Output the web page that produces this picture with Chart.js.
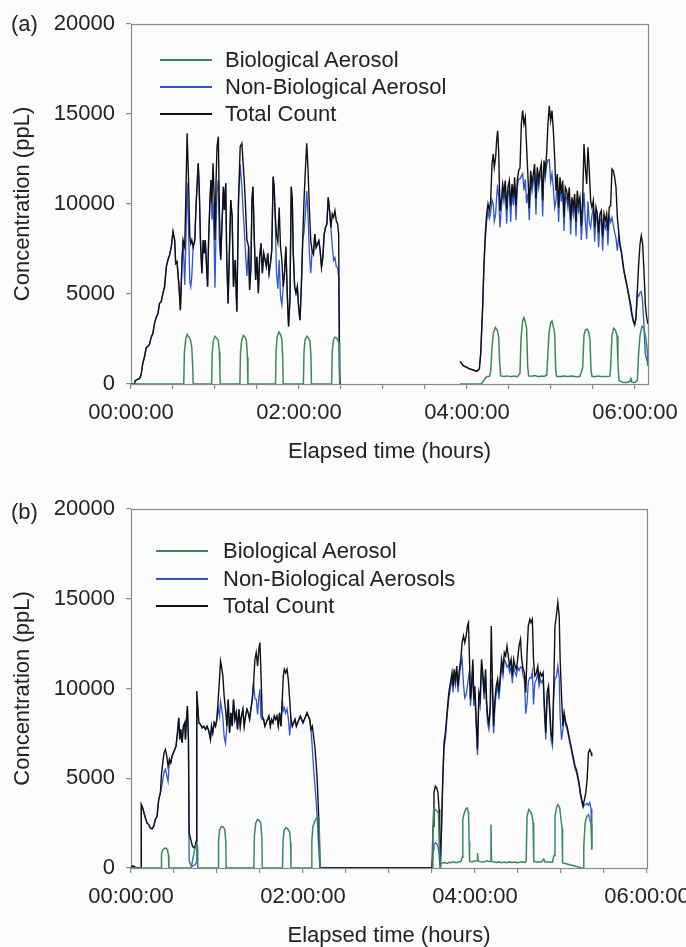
<!DOCTYPE html>
<html>
<head>
<meta charset="utf-8">
<title>Aerosol concentration vs elapsed time</title>
<script src="https://cdn.jsdelivr.net/npm/chart.js@4.4.1/dist/chart.umd.min.js"></script>
<style>
  html, body { margin:0; padding:0; background:#fcfcfd; }
  body { position:relative; width:686px; height:947px; overflow:hidden;
         font-family:"Liberation Sans", Arial, Helvetica, sans-serif; color:#222; }
  .panel { position:absolute; left:0; width:686px; }
  .plabel { position:absolute; left:11px; font-size:22px; line-height:22px; white-space:nowrap; }
  .leg { position:absolute; font-size:22px; line-height:22px; white-space:nowrap; }
  .legline { position:absolute; height:0; width:52px; }
</style>
</head>
<body>
<div class="panel" id="panelA" style="top:0;height:470px;"><canvas id="chartA"></canvas></div>
<div class="panel" id="panelB" style="top:485px;height:462px;"><canvas id="chartB"></canvas></div>
<div class="plabel" style="top:13px;">(a)</div>
<div class="plabel" style="top:501px;">(b)</div>
<div id="legendA"></div>
<div id="legendB"></div>
<script>
// ---------------- labels ----------------
const SERIES_A = ['Biological Aerosol', 'Non-Biological Aerosol', 'Total Count'];
const SERIES_B = ['Biological Aerosol', 'Non-Biological Aerosols', 'Total Count'];
const Y_TICKS = [0, 5000, 10000, 15000, 20000];
const X_LABEL_HOURS = [0, 2, 4, 6];
const X_TITLE = 'Elapsed time (hours)';
const Y_TITLE = 'Concentration (ppL)';

// ---------------- panel (a) : time in hours, concentration in ppL ----------------
const A1_T = [0,0.04,0.052,0.08,0.1,0.12,0.14,0.16,0.18,0.2,
0.22,0.24,0.26,0.28,0.3,0.32,0.34,0.36,0.38,0.4,
0.42,0.44,0.46,0.48,0.5,0.52,0.532,0.548,0.572,0.588,
0.608,0.62,0.64,0.652,0.668,0.684,0.7,0.712,0.724,0.74,
0.76,0.772,0.788,0.8,0.812,0.828,0.844,0.86,0.872,0.884,
0.9,0.912,0.924,0.94,0.952,0.964,0.976,0.988,1.0,1.012,
1.024,1.04,1.052,1.068,1.084,1.1,1.112,1.128,1.14,1.156,
1.172,1.188,1.204,1.22,1.24,1.26,1.28,1.3,1.32,1.332,
1.348,1.364,1.38,1.4,1.412,1.428,1.44,1.452,1.468,1.484,
1.5,1.516,1.532,1.548,1.564,1.58,1.596,1.612,1.628,1.644,
1.66,1.676,1.692,1.704,1.716,1.732,1.748,1.764,1.78,1.796,
1.812,1.828,1.844,1.86,1.876,1.892,1.908,1.92,1.932,1.948,
1.964,1.98,1.996,2.012,2.028,2.044,2.06,2.076,2.092,2.108,
2.124,2.14,2.156,2.172,2.188,2.204,2.22,2.236,2.252,2.268,
2.284,2.3,2.316,2.332,2.348,2.364,2.38,2.396,2.412,2.428,
2.444,2.46,2.472,2.484,2.49];
const A1_TOTAL = [0,0,200,260,300,500,1150,1500,2000,2100,
2200,2600,2800,3370,3700,3900,4480,4570,5040,5400,
6500,6900,7170,7630,8460,8000,6700,6800,5400,4100,
6900,8000,7600,10200,13930,11500,8200,7800,8000,7600,
8000,9670,11150,12260,10960,7800,6150,8000,7260,8000,
6500,5400,8000,10220,11330,10040,12260,10780,8000,11150,
13190,13740,9670,6900,8930,10960,9670,11150,6900,4480,
7440,10220,9300,5410,6890,4020,10220,13190,13370,12450,
11330,9800,8000,7630,5220,6480,10220,10960,8000,5780,
7070,5040,7070,7810,6150,7260,6890,6520,7260,6150,
6700,7440,11520,10960,9500,8300,7900,9800,7600,6900,
5410,6150,7630,5040,3190,4670,10960,10220,7260,5410,
5040,5410,4260,3550,5410,7960,10220,11890,13370,11890,
9670,7960,7410,7220,8330,7590,7780,7960,7410,6480,
7040,8330,8700,8890,10370,9630,8700,9450,9260,9630,
9070,8890,8330,400,0];
const A1_NONBIO = [0,0,200,260,300,500,1150,1500,2000,2100,
2200,2600,2800,3370,3700,3900,4480,4570,5040,5400,
6500,6900,7170,7630,8460,8000,6700,6800,5400,4100,
6900,8000,5500,7700,11180,8850,5700,5400,6000,7600,
8000,9670,11150,12260,10960,7800,6150,8000,7260,8000,
6500,5400,8000,10220,11330,9140,10060,8280,5350,8550,
10690,11340,7870,6900,8930,10960,9670,11150,6900,4480,
7440,10220,9300,5410,6890,4020,10220,12190,10920,9850,
8630,7200,6000,7630,5220,6480,10220,10960,8000,5780,
7070,5040,7070,7810,6150,7260,6890,6520,7260,6150,
6700,7440,11520,10960,9300,6200,5300,6900,4850,4400,
5410,6150,7630,5040,3190,4670,10960,10220,7260,5410,
5040,5410,4260,3550,5410,7960,8420,9440,10720,9320,
7220,6160,7410,7220,8330,7590,7780,7960,7410,6480,
7040,8330,8700,8890,10370,9630,8700,7650,6860,7030,
6520,6440,5980,400,0];

const A2_T = [3.917,3.956,3.996,4.036,4.075,4.115,4.147,4.163,4.186,4.202,
4.218,4.234,4.25,4.266,4.282,4.298,4.313,4.325,4.341,4.353,
4.365,4.377,4.393,4.409,4.425,4.44,4.456,4.472,4.488,4.504,
4.52,4.536,4.552,4.567,4.583,4.599,4.615,4.631,4.647,4.663,
4.678,4.694,4.71,4.726,4.742,4.758,4.774,4.79,4.805,4.821,
4.837,4.853,4.869,4.885,4.901,4.917,4.932,4.948,4.964,4.98,
4.996,5.012,5.028,5.044,5.059,5.075,5.091,5.107,5.123,5.139,
5.155,5.171,5.186,5.202,5.218,5.234,5.25,5.266,5.282,5.298,
5.313,5.329,5.345,5.361,5.377,5.393,5.409,5.425,5.44,5.456,
5.472,5.488,5.504,5.52,5.536,5.552,5.567,5.583,5.599,5.615,
5.631,5.647,5.663,5.678,5.694,5.71,5.726,5.742,5.758,5.774,
5.79,5.805,5.821,5.837,5.853,5.869,5.885,5.901,5.917,5.932,
5.948,5.964,5.98,5.996,6.012,6.028,6.044,6.06,6.075,6.091,
6.107,6.123,6.139,6.155];
const A2_TOTAL = [1260,1020,926,833,778,704,833,1667,4260,6667,
8333,9445,10000,9630,10190,12220,12780,12040,12590,13520,
14075,12960,9600,10190,11110,10560,11300,9700,10930,11300,
9900,11110,10370,11480,9900,11300,11850,12000,14450,15190,
14450,14820,13150,11480,9800,11850,11110,11670,12220,10300,
12040,11300,11850,12220,10200,12410,11850,12780,14450,15460,
14630,15190,14075,12590,10740,11670,9800,11480,10560,11300,
9300,10930,10740,10190,10930,9100,10370,9815,10560,9000,
10740,10000,10370,8800,10190,13330,12040,11110,13150,11850,
10190,9815,10190,8700,9815,9445,8400,9445,9630,8200,
9445,9075,9445,8500,9815,9900,11950,11850,11480,10930,
9260,8520,7780,7410,6850,6300,5930,5560,5190,4815,
4445,3890,3520,3330,3700,5190,6670,7780,8240,7780,
6300,4445,3700,3330];
const A2_NONBIO = [1260,1020,926,833,778,704,833,1667,4160,6470,
8000,9045,9580,9200,9490,10220,9980,9040,9440,10420,
11075,10360,8700,9740,10680,10140,10870,8900,10480,10880,
9000,10690,9930,11050,9100,10890,11400,11400,11550,11690,
10750,11370,10050,10580,9100,11420,10680,11230,11750,9400,
11610,10890,11430,11780,9300,11990,11430,12180,12450,12460,
11230,11690,10875,9790,10140,11240,9000,11070,10130,10860,
8500,10490,10310,9770,10505,8300,9930,9385,10140,8200,
10330,9580,9940,8000,9290,10630,9040,8060,10150,8950,
8690,9385,9770,7900,9395,9005,7600,9035,9220,7400,
9025,8655,9025,7700,9315,9000,9250,8800,8430,8080,
7400,8220,7630,7310,6750,6200,5840,5480,5090,4685,
4195,3790,3440,3250,3600,4990,4870,5080,5140,4580,
3200,1645,1400,1000];

const A_BIO1_T = [0,0.628,0.636,0.652,0.668,0.688,0.708,0.724,0.735,0.74,
0.96,0.968,0.98,1.0,1.02,1.04,1.052,1.058,1.062,
1.296,1.304,1.318,1.338,1.358,1.374,1.386,1.392,
1.72,1.728,1.74,1.76,1.78,1.795,1.806,1.812,
2.052,2.06,2.072,2.092,2.112,2.13,2.142,2.148,
2.388,2.396,2.408,2.428,2.448,2.466,2.478,2.484];
const A_BIO1 = [0,0,1800,2500,2750,2620,2450,2000,900,0,
0,1800,2400,2650,2550,2400,1800,800,0,
0,1800,2450,2700,2600,2400,1500,0,
0,1900,2600,2900,2750,2500,1500,0,
0,1800,2450,2650,2550,2400,1600,0,
0,1800,2400,2600,2550,2400,2300,0];
const A_BIO2_T = [3.917,4.17,4.178,4.194,4.214,4.242,4.266,4.282,4.298,4.313,
4.337,4.361,4.377,4.389,4.401,4.44,4.48,4.52,4.56,4.6,
4.631,4.643,4.663,4.678,4.694,4.71,4.722,4.734,4.77,4.81,
4.85,4.89,4.92,4.95,4.961,4.976,4.996,5.012,5.028,5.044,
5.056,5.067,5.11,5.15,5.2,5.25,5.3,5.345,5.377,5.393,
5.409,5.432,5.448,5.464,5.476,5.488,5.52,5.56,5.6,5.64,
5.7,5.71,5.726,5.746,5.766,5.786,5.797,5.809,5.85,5.9,
5.94,5.952,5.964,6.0,6.028,6.044,6.06,6.083,6.107,6.131,
6.147,6.155];
const A_BIO2 = [0,0,60,150,300,420,430,700,2000,2800,
3150,3000,2600,1200,450,420,450,400,440,410,
600,2500,3500,3700,3450,3100,1000,450,430,470,
410,440,420,500,1500,2800,3400,3500,3200,2800,
800,430,410,450,420,440,400,430,900,2700,
3000,3050,2900,2500,800,430,400,440,410,420,
430,900,2700,3100,3000,2700,1200,200,100,80,
150,300,100,80,200,1800,2700,3200,3100,2500,
1800,1000];

// ---------------- panel (b) ----------------
const B_T = [0,0.031,0.05,0.089,0.117,0.12,0.136,0.151,0.167,0.186,
0.206,0.225,0.245,0.264,0.283,0.303,0.322,0.342,0.353,0.369,
0.384,0.4,0.416,0.431,0.447,0.462,0.478,0.493,0.509,0.524,
0.54,0.555,0.567,0.579,0.594,0.61,0.625,0.633,0.645,0.656,
0.668,0.676,0.695,0.715,0.734,0.75,0.757,0.765,0.777,0.788,
0.808,0.827,0.847,0.866,0.885,0.905,0.924,0.936,0.951,0.967,
0.983,0.998,1.014,1.029,1.041,1.052,1.068,1.083,1.099,1.115,
1.13,1.146,1.161,1.177,1.192,1.208,1.223,1.239,1.254,1.27,
1.285,1.301,1.316,1.332,1.348,1.363,1.379,1.394,1.41,1.425,
1.441,1.456,1.472,1.487,1.499,1.511,1.526,1.542,1.557,1.573,
1.588,1.604,1.62,1.635,1.651,1.666,1.682,1.697,1.713,1.728,
1.744,1.759,1.771,1.783,1.798,1.814,1.829,1.845,1.86,1.876,
1.891,1.907,1.923,1.938,1.953,1.969,1.984,2.0,2.016,2.031,
2.047,2.062,2.078,2.093,2.109,2.124,2.139,2.155,2.167,2.179,
2.19,2.198,3.5,
3.512,3.523,3.539,3.554,3.57,3.582,3.589,3.597,3.609,3.625,
3.64,3.656,3.675,3.695,3.714,3.733,3.745,3.757,3.772,3.788,
3.803,3.819,3.835,3.85,3.866,3.881,3.897,3.912,3.924,3.936,
3.947,3.959,3.975,3.986,3.998,4.014,4.029,4.045,4.06,4.076,
4.091,4.107,4.123,4.134,4.146,4.161,4.177,4.189,4.2,4.216,
4.232,4.247,4.263,4.278,4.294,4.309,4.325,4.341,4.356,4.372,
4.387,4.403,4.42,4.434,4.45,4.465,4.481,4.496,4.512,4.529,
4.543,4.56,4.575,4.59,4.607,4.62,4.638,4.652,4.667,4.68,
4.696,4.714,4.73,4.745,4.76,4.776,4.792,4.807,4.823,4.838,
4.855,4.868,4.884,4.9,4.914,4.93,4.946,4.963,4.979,4.99,
5.006,5.023,5.037,5.056,5.07,5.086,5.1,5.117,5.132,5.148,
5.163,5.179,5.195,5.21,5.226,5.241,5.257,5.272,5.288,5.304,
5.319,5.335,5.35,5.358];
const B_TOTAL = [100,100,30,0,0,3530,3350,3070,2790,2510,
2420,2230,2180,2330,2700,2880,3810,4190,5120,5860,
6420,6600,6230,5670,6050,5860,6230,6420,6600,6790,
7530,8370,7160,7720,6980,7900,8090,7160,8280,9020,
7160,1950,1580,1210,1115,1300,1500,9860,9000,8090,
8000,7810,7900,7720,7900,7620,7160,7900,7530,8090,
7900,8280,9390,10510,11530,11250,10700,9580,8840,7900,
9390,7530,8650,7900,9390,8280,8650,7720,8840,7900,
8460,8840,7900,8460,8840,8650,8280,8840,9390,10320,
11630,12000,11250,12190,12560,10880,8460,8280,7900,8090,
8280,8460,7900,8280,8090,8460,8280,8460,7900,8650,
7900,9390,10700,11070,10880,11070,10510,9390,8280,7900,
8090,8280,7900,8090,8280,8460,8280,8090,8280,8460,
8650,8460,8280,7720,7900,7300,6700,5700,4700,3300,
1500,0,0,
2325,4185,4560,4465,4185,3255,1210,186,2000,5000,
7000,7530,8650,9765,10320,10880,10130,11070,10510,11250,
10130,11070,11620,12555,12930,12555,12930,13485,13670,11620,
9390,10130,11620,9390,10130,8280,6600,9765,9390,11620,
10880,9765,11070,9390,8460,8090,9020,13485,10880,7900,
9390,10130,10510,9765,10700,11620,11070,12000,11810,12370,
11810,11250,11620,10700,11620,11250,11070,11620,12370,12740,
11620,11070,10880,9765,12180,13485,13860,13670,13860,11620,
10700,10880,11250,10510,10880,10700,10880,9020,7530,9765,
10130,9020,7530,7160,9765,13485,14040,14790,14040,11620,
9600,7900,8650,8090,7900,7530,7160,6790,6420,6045,
5670,5490,5120,4750,4185,3810,3440,3810,4185,4930,
6420,6600,6420,6230];
const B_NONBIO = [100,100,30,0,0,3530,3350,3070,2790,2510,
2420,2230,2180,2330,2700,2880,3810,4190,4420,4860,
5370,5500,5130,4820,6050,5860,6230,6420,6600,6790,
7530,8370,7160,7720,6980,7900,8090,7160,8280,9020,
7160,400,150,100,150,200,300,8560,9000,8090,
8000,7810,7900,7720,7900,7620,7160,7900,7530,8090,
7900,8280,8890,8460,9280,8950,8400,7330,6940,7900,
9390,7530,8650,7900,9390,8280,8650,7720,8840,7900,
8460,8840,7900,8460,8840,8650,8280,8840,9390,10320,
9430,9400,8550,9540,9960,8380,8260,8280,7900,8090,
8280,8460,7900,8280,8090,8460,8280,8460,7900,8650,
7900,9390,8750,8920,8630,8870,8360,7390,8280,7900,
8090,8280,7900,8090,8280,8460,8280,8090,8280,8460,
8650,8460,8280,7720,6600,5500,4600,3600,2600,1500,
500,0,0,
1000,1300,1400,1350,1200,800,200,0,1800,4700,
6700,7230,8400,9450,10000,10550,9800,10750,10200,10900,
9800,10750,11300,11650,10230,9480,9680,10130,10600,11000,
9020,9760,11250,9020,9760,7900,6300,9400,9020,11250,
10500,9400,10700,9020,8090,7720,8650,10500,10500,7500,
9020,9760,10150,9400,10330,11250,10700,11600,11450,11200,
11300,10900,11200,10300,11200,10900,10700,11200,11000,11200,
11200,10700,10500,8600,9300,10385,10600,10570,10960,9110,
10330,10500,10880,10140,10500,10330,10500,8650,7160,9400,
9760,8650,7160,6790,9400,10600,10640,11260,10590,8420,
7150,7750,8500,7940,7750,7380,7010,6640,6270,5900,
5520,5340,4970,4600,4050,3700,3400,3500,3550,3600,
3500,3650,3300,1000];

const B_BIO1_T = [0,0.35,0.355,0.37,0.39,0.41,0.425,0.436,0.44,
0.7,0.715,0.735,0.75,0.765,0.772,0.776,
1.012,1.018,1.03,1.05,1.07,1.09,1.102,1.107,
1.428,1.435,1.45,1.47,1.49,1.51,1.522,1.527,
1.762,1.768,1.78,1.8,1.82,1.845,1.856,1.86,
2.095,2.103,2.115,2.135,2.155,2.17,2.185,2.193,2.198];
const B_BIO1 = [0,0,800,1000,1100,1100,1000,700,0,
0,400,900,1200,1300,1200,0,
0,1500,2100,2300,2300,2150,1500,0,
0,1800,2500,2700,2650,2500,1600,0,
0,1500,2100,2250,2200,2000,1400,0,
0,1500,2300,2600,2750,2850,2800,1500,0];
const B_BIO2_T = [3.5,3.51,3.52,3.54,3.56,3.575,3.585,3.597,3.607,3.62,
3.65,3.68,3.7,3.72,3.75,3.78,3.81,3.84,3.85,3.858,
3.875,3.895,3.91,3.925,3.932,3.937,3.96,3.99,4.025,4.03,
4.035,4.06,4.1,4.13,4.17,4.18,4.186,4.192,4.22,4.25,
4.28,4.31,4.34,4.37,4.4,4.43,4.46,4.49,4.52,4.55,
4.58,4.595,4.605,4.625,4.645,4.665,4.675,4.683,4.71,4.74,
4.77,4.8,4.81,4.84,4.87,4.9,4.92,4.93,4.95,4.965,
4.985,5.0,5.012,5.018,5.05,5.1,5.15,5.2,5.24,5.257,
5.265,5.28,5.3,5.32,5.335,5.35,5.358];
const B_BIO2 = [0,2300,3350,3255,3150,3070,1400,0,240,280,
300,250,320,300,350,300,330,380,600,2700,
3070,3300,3350,3070,1500,370,330,380,400,840,
400,350,330,400,350,370,2420,370,330,310,
350,300,330,290,340,310,330,300,320,350,
310,370,2880,3255,3150,2900,2510,370,330,350,
320,500,350,330,340,320,700,2880,3400,3530,
3350,2700,2200,300,250,180,120,60,0,0,
1200,2500,2880,2975,2700,2500,1100];

// ---------------- styling ----------------
const GREEN = '#3b895b', BLUE = '#2f56d0', BLACK = '#111111', AXIS = '#8a8a8a', TEXT = '#222222';
const FONT = '"Liberation Sans", Arial, Helvetica, sans-serif';

const pts = (ts, vs) => ts.map((t, i) => ({ x: t, y: vs[i] }));
const gap = x => [{ x: x, y: null }];
const fmtHour = h => String(h).padStart(2, '0') + ':00:00';

const framePlugin = {
  id: 'frame',
  beforeDatasetsDraw(chart) {
    const { ctx, chartArea: a } = chart;
    ctx.save();
    ctx.strokeStyle = AXIS;
    ctx.lineWidth = 1.2;
    const l = Math.round(a.left) + 0.5, t = Math.round(a.top) + 0.5;
    const r = Math.round(a.right) + 0.5, b = Math.round(a.bottom) + 0.5;
    ctx.strokeRect(l, t, r - l, b - t);
    ctx.restore();
  }
};

function makeChart(id, cfg) {
  const ds = [
    { label: cfg.labels[0], data: cfg.bio, borderColor: GREEN, borderWidth: 1.5, order: 0 },
    { label: cfg.labels[1], data: cfg.nonBio, borderColor: BLUE, borderWidth: 1.3, order: 2 },
    { label: cfg.labels[2], data: cfg.total, borderColor: BLACK, borderWidth: 1.4, order: 1 }
  ];
  ds.forEach(d => { d.pointRadius = 0; d.fill = false; d.tension = 0; d.spanGaps = false; d.backgroundColor = d.borderColor; });
  const tickFont = { family: FONT, size: 22, lineHeight: 1 };
  return new Chart(document.getElementById(id), {
    type: 'line',
    data: { datasets: ds },
    options: {
      responsive: true, maintainAspectRatio: false, animation: false, events: [],
      layout: { padding: { left: 0, top: cfg.padTop, right: cfg.padRight, bottom: 0 } },
      plugins: { legend: { display: false }, tooltip: { enabled: false } },
      scales: {
        x: {
          type: 'linear', min: 0, max: cfg.xMax,
          ticks: {
            stepSize: 0.5, autoSkip: false, maxRotation: 0, minRotation: 0, includeBounds: false,
            padding: 13, color: TEXT, font: tickFont,
            callback: v => {
              const r = Math.round(v);
              return (Math.abs(v - r) < 1e-6 && X_LABEL_HOURS.includes(r)) ? fmtHour(r) : '';
            }
          },
          grid: { drawOnChartArea: false, drawTicks: true, tickLength: 5, color: AXIS, lineWidth: 1.2 },
          border: { display: false },
          title: { display: true, text: X_TITLE, color: TEXT, font: tickFont, padding: { top: 0, bottom: cfg.xTitlePad } },
          afterFit: s => { s.height = cfg.xAxisH; s.paddingLeft = 0; s.paddingRight = 0; }
        },
        y: {
          min: Y_TICKS[0], max: Y_TICKS[Y_TICKS.length - 1],
          ticks: { stepSize: Y_TICKS[1] - Y_TICKS[0], padding: 11, color: TEXT, font: tickFont, callback: v => String(v) },
          grid: { drawOnChartArea: false, drawTicks: true, tickLength: 5, color: AXIS, lineWidth: 1.2 },
          border: { display: false },
          title: { display: true, text: Y_TITLE, color: TEXT, font: tickFont, padding: { top: 12, bottom: 0 } },
          afterFit: s => { s.width = 131; s.paddingTop = 0; s.paddingBottom = 0; }
        }
      }
    },
    plugins: [framePlugin]
  });
}

const chartA = makeChart('chartA', {
  labels: SERIES_A,
  bio: [...pts(A_BIO1_T, A_BIO1), ...gap(3.2), ...pts(A_BIO2_T, A_BIO2)],
  nonBio: [...pts(A1_T, A1_NONBIO), ...gap(3.2), ...pts(A2_T, A2_NONBIO)],
  total: [...pts(A1_T, A1_TOTAL), ...gap(3.2), ...pts(A2_T, A2_TOTAL)],
  xMax: 6.155, padTop: 24, padRight: 38, xAxisH: 86, xTitlePad: 7
});
const chartB = makeChart('chartB', {
  labels: SERIES_B,
  bio: [...pts(B_BIO1_T, B_BIO1), ...gap(2.8), ...pts(B_BIO2_T, B_BIO2)],
  nonBio: pts(B_T, B_NONBIO),
  total: pts(B_T, B_TOTAL),
  xMax: 6, padTop: 24, padRight: 39, xAxisH: 79, xTitlePad: 0
});

// ---------------- HTML legends (inside plot areas) ----------------
function buildLegend(el, chart, lineX, textX, rowsY) {
  chart.data.datasets.forEach((d, i) => {
    const ln = document.createElement('div');
    ln.className = 'legline';
    ln.style.left = lineX + 'px';
    ln.style.top = (rowsY[i] - 1) + 'px';
    ln.style.borderTop = '2px solid ' + d.borderColor;
    el.appendChild(ln);
    const tx = document.createElement('div');
    tx.className = 'leg';
    tx.style.left = textX + 'px';
    tx.style.top = (rowsY[i] - 10.7) + 'px';
    tx.textContent = d.label;
    el.appendChild(tx);
  });
}
buildLegend(document.getElementById('legendA'), chartA, 160, 225, [60, 87, 114]);
buildLegend(document.getElementById('legendB'), chartB, 156, 223, [551, 578.5, 606]);
</script>
</body>
</html>
